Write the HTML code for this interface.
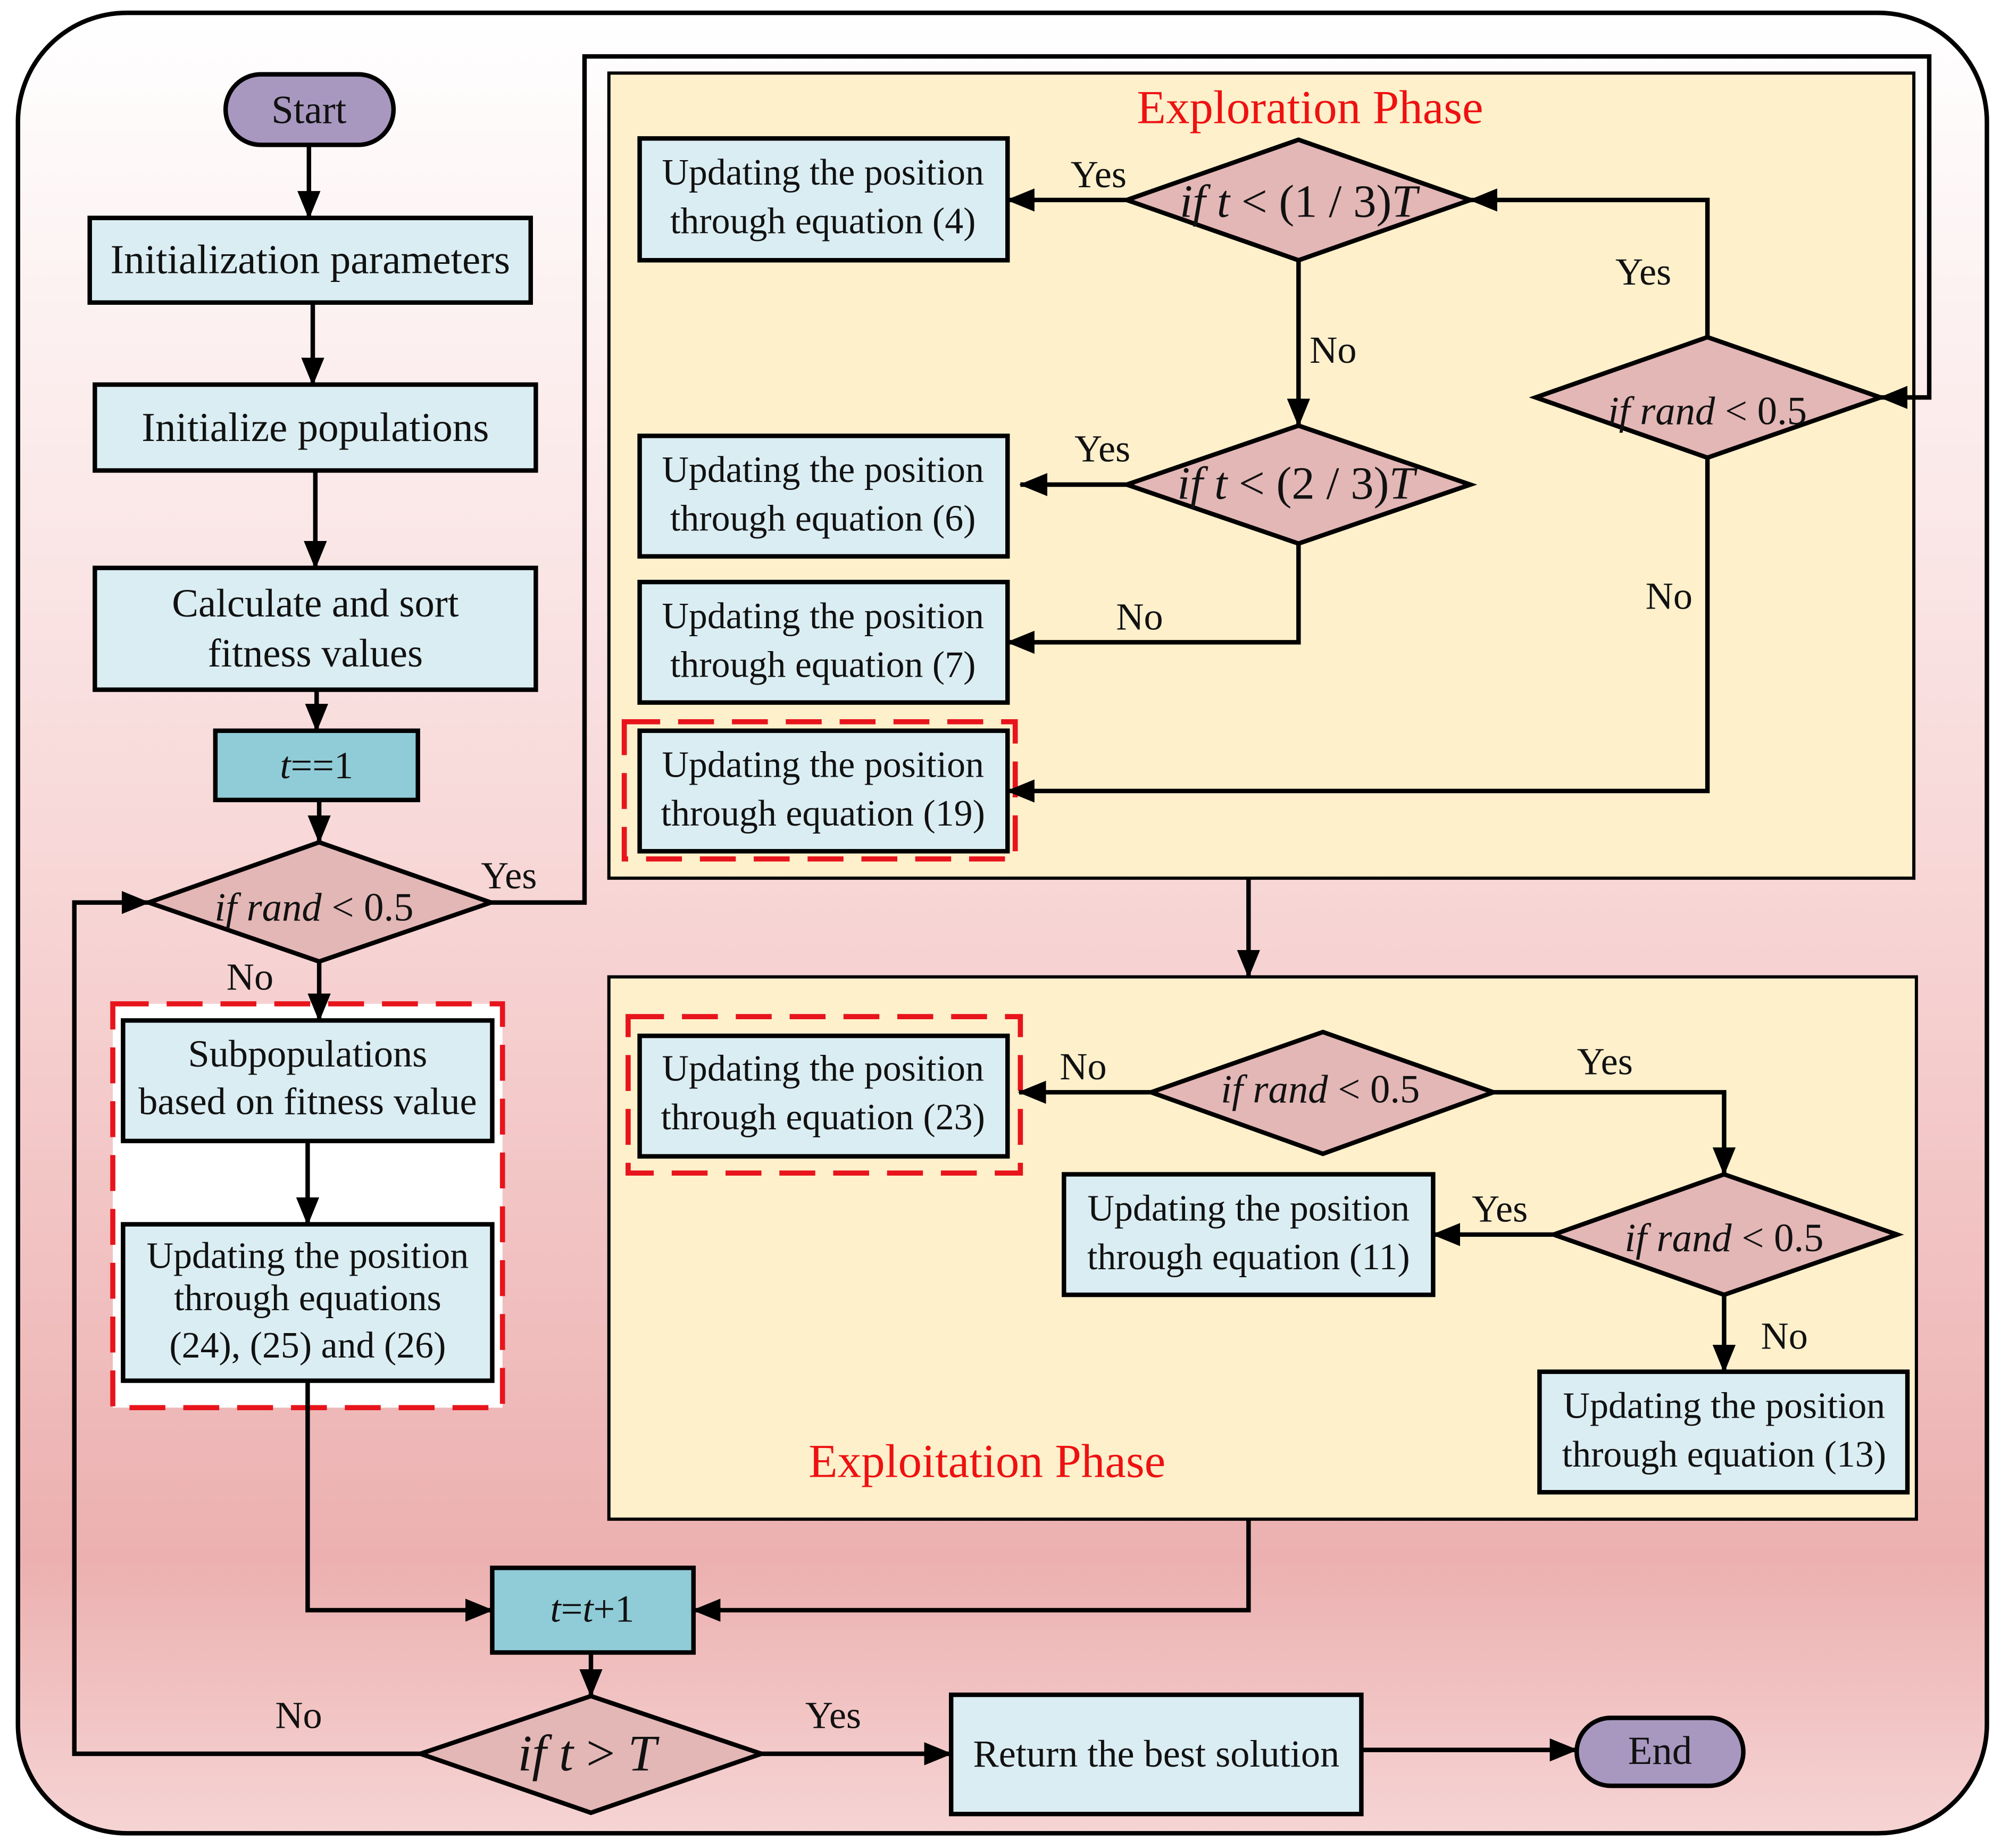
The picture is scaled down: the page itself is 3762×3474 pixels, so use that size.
<!DOCTYPE html>
<html><head><meta charset="utf-8"><style>
html,body{margin:0;padding:0;background:#fff;}
svg{display:block;}
text{font-family:"Liberation Serif",serif;fill:#111;}
</style></head><body>
<svg width="3762" height="3474" viewBox="0 0 1561 1441.5" preserveAspectRatio="none" xmlns="http://www.w3.org/2000/svg">
<defs>
<linearGradient id="bg" x1="0" y1="0" x2="0" y2="1">
<stop offset="0" stop-color="#ffffff"/>
<stop offset="0.5" stop-color="#f7d4d4"/>
<stop offset="0.85" stop-color="#ecb0b0"/>
<stop offset="1" stop-color="#f6d4d4"/>
</linearGradient>
<marker id="m" markerWidth="22" markerHeight="18" refX="21" refY="9" orient="auto" markerUnits="userSpaceOnUse"><path d="M0,0 L22,9 L0,18 Z" fill="#000"/></marker>
</defs>
<style>
.ar{stroke:#000;stroke-width:3.5;fill:none;}
.bx{fill:#daedf2;stroke:#000;stroke-width:3.5;}
.tl{fill:#8fccd7;stroke:#000;stroke-width:3.5;}
.dm{fill:#e3b7b6;stroke:#000;stroke-width:3.5;}
.t{text-anchor:middle;}
.u{font-size:29px;text-anchor:middle;}
.rd{fill:none;stroke:#e8141c;stroke-width:4;stroke-dasharray:28,14;}
.lb{font-size:30px;text-anchor:middle;}
.dr{font-size:31px;text-anchor:middle;}
</style>

<rect x="14" y="10" width="1536" height="1420" rx="85" fill="url(#bg)" stroke="#000" stroke-width="3.5"/>

<rect x="475" y="57" width="1018" height="628" fill="#fdf0cb" stroke="#000" stroke-width="2.5"/>
<rect x="475" y="762" width="1020" height="423" fill="#fdf0cb" stroke="#000" stroke-width="2.5"/>
<text x="1022" y="96" class="t" style="font-size:37px;fill:#ee1111">Exploration Phase</text>
<text x="770" y="1152" class="t" style="font-size:37px;fill:#ee1111">Exploitation Phase</text>

<rect x="176" y="58" width="131" height="55" rx="27.5" fill="#a898c0" stroke="#000" stroke-width="3.5"/>
<text x="241" y="96" class="t" style="font-size:31px">Start</text>
<rect x="70" y="170" width="344" height="66" class="bx"/>
<text x="242" y="213" class="t" style="font-size:32px">Initialization parameters</text>
<rect x="74" y="300" width="344" height="67" class="bx"/>
<text x="246" y="344" class="t" style="font-size:32px">Initialize populations</text>
<rect x="74" y="443" width="344" height="95" class="bx"/>
<text x="246" y="481" class="t" style="font-size:31px">Calculate and sort</text>
<text x="246" y="520" class="t" style="font-size:31px">fitness values</text>
<rect x="168" y="570" width="158" height="54" class="tl"/>
<text x="247" y="607" class="t" style="font-size:30px"><tspan font-style="italic">t</tspan>==1</text>
<polygon points="116,704 249,657 383,704 249,750" class="dm"/>
<text x="245" y="718" class="dr"><tspan font-style="italic">if  rand</tspan> &lt; 0.5</text>

<rect x="88" y="783" width="304" height="315" fill="#fff"/>
<rect x="88" y="783" width="304" height="315" class="rd"/>
<rect x="96" y="796" width="288" height="94" class="bx"/>
<text x="240" y="832" class="t" style="font-size:30px">Subpopulations</text>
<text x="240" y="869" class="t" style="font-size:30px">based on fitness value</text>
<rect x="96" y="955" width="288" height="122" class="bx"/>
<text x="240" y="989" class="t" style="font-size:29px">Updating the position</text>
<text x="240" y="1022" class="t" style="font-size:29px">through equations</text>
<text x="240" y="1059" class="t" style="font-size:29px">(24), (25) and (26)</text>

<rect x="384" y="1223" width="157" height="66" class="tl"/>
<text x="462" y="1265" class="t" style="font-size:30px"><tspan font-style="italic">t</tspan>=<tspan font-style="italic">t</tspan>+1</text>
<polygon points="328,1368 461,1323 594,1368 461,1414" class="dm"/>
<text x="458" y="1381" class="t" style="font-size:40px"><tspan font-style="italic">if  t</tspan> &gt; <tspan font-style="italic">T</tspan></text>
<rect x="742" y="1322" width="320" height="93" class="bx"/>
<text x="902" y="1378" class="t" style="font-size:30px">Return the best solution</text>
<rect x="1230" y="1340" width="130" height="53" rx="26.5" fill="#a898c0" stroke="#000" stroke-width="3.5"/>
<text x="1295" y="1376" class="t" style="font-size:31px">End</text>

<rect x="499" y="108" width="287" height="95" class="bx"/>
<text x="642" y="144" class="u">Updating the position</text>
<text x="642" y="182" class="u">through equation (4)</text>
<rect x="499" y="340" width="287" height="94" class="bx"/>
<text x="642" y="376" class="u">Updating the position</text>
<text x="642" y="414" class="u">through equation (6)</text>
<rect x="499" y="454" width="287" height="94" class="bx"/>
<text x="642" y="490" class="u">Updating the position</text>
<text x="642" y="528" class="u">through equation (7)</text>
<rect x="487" y="563" width="305" height="107" class="rd"/>
<rect x="499" y="570" width="287" height="94" class="bx"/>
<text x="642" y="606" class="u">Updating the position</text>
<text x="642" y="644" class="u">through equation (19)</text>

<polygon points="879,156 1013,109 1147,156 1013,203" class="dm"/>
<text x="1013" y="169" class="t" style="font-size:36px"><tspan font-style="italic">if t</tspan> &lt; (1 / 3)<tspan font-style="italic">T</tspan></text>
<polygon points="879,378 1013,332 1147,378 1013,424" class="dm"/>
<text x="1011" y="389" class="t" style="font-size:36px"><tspan font-style="italic">if t</tspan> &lt; (2 / 3)<tspan font-style="italic">T</tspan></text>
<polygon points="1198,310 1332,263 1467,310 1332,357" class="dm"/>
<text x="1332" y="331" class="dr"><tspan font-style="italic">if  rand</tspan> &lt; 0.5</text>

<rect x="490" y="793" width="306" height="122" class="rd"/>
<rect x="499" y="808" width="287" height="94" class="bx"/>
<text x="642" y="843" class="u">Updating the position</text>
<text x="642" y="881" class="u">through equation (23)</text>
<polygon points="898,852 1032,805 1165,852 1032,900" class="dm"/>
<text x="1030" y="860" class="dr"><tspan font-style="italic">if  rand</tspan> &lt; 0.5</text>
<rect x="830" y="916" width="288" height="94" class="bx"/>
<text x="974" y="952" class="u">Updating the position</text>
<text x="974" y="990" class="u">through equation (11)</text>
<polygon points="1212,963 1345,916 1480,963 1345,1010" class="dm"/>
<text x="1345" y="976" class="dr"><tspan font-style="italic">if  rand</tspan> &lt; 0.5</text>
<rect x="1201" y="1070" width="287" height="94" class="bx"/>
<text x="1345" y="1106" class="u">Updating the position</text>
<text x="1345" y="1144" class="u">through equation (13)</text>

<g class="ar" marker-end="url(#m)">
<path d="M241,113 V170"/>
<path d="M244,236 V300"/>
<path d="M246,367 V443"/>
<path d="M247,538 V570"/>
<path d="M249,624 V657"/>
<path d="M249,750 V796"/>
<path d="M240,890 V955"/>
<path d="M240,1077 V1256 H384"/>
<path d="M974,1185 V1256 H541"/>
<path d="M461,1289 V1323"/>
<path d="M328,1368 H58 V704 H116"/>
<path d="M594,1368 H742"/>
<path d="M1062,1365 H1230"/>
<path d="M383,704 H456 V44 H1505 V310 H1467"/>
<path d="M879,156 H786"/>
<path d="M1013,203 V332"/>
<path d="M879,378 H796"/>
<path d="M1013,424 V501 H786"/>
<path d="M1332,263 V156 H1147"/>
<path d="M1332,357 V617 H786"/>
<path d="M974,685 V762"/>
<path d="M898,852 H795"/>
<path d="M1165,852 H1345 V916"/>
<path d="M1212,963 H1118"/>
<path d="M1345,1010 V1070"/>
</g>

<text x="397" y="693" class="lb">Yes</text>
<text x="195" y="772" class="lb">No</text>
<text x="233" y="1348" class="lb">No</text>
<text x="650" y="1348" class="lb">Yes</text>
<text x="857" y="146" class="lb">Yes</text>
<text x="1040" y="283" class="lb">No</text>
<text x="860" y="360" class="lb">Yes</text>
<text x="889" y="491" class="lb">No</text>
<text x="1282" y="222" class="lb">Yes</text>
<text x="1302" y="475" class="lb">No</text>
<text x="845" y="842" class="lb">No</text>
<text x="1252" y="838" class="lb">Yes</text>
<text x="1170" y="953" class="lb">Yes</text>
<text x="1392" y="1052" class="lb">No</text>
</svg>
</body></html>
